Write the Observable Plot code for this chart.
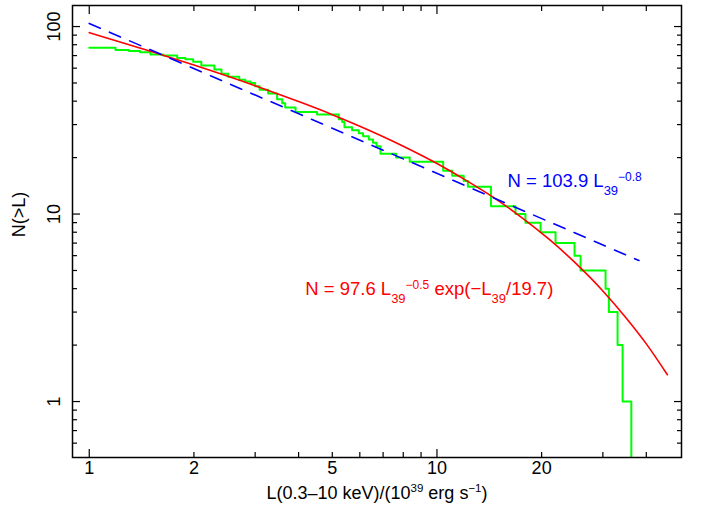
<!DOCTYPE html>
<html><head><meta charset="utf-8">
<script src="https://cdn.jsdelivr.net/npm/d3@7"></script>
<script src="https://cdn.jsdelivr.net/npm/@observablehq/plot@0.6"></script>
<style>body{margin:0;background:#fff}</style>
</head><body><div id="chart"></div>
<script>
// Cumulative luminosity function N(>L): step positions and counts
const stepL = [1.00, 1.19, 1.30, 1.40, 1.50, 1.63, 1.79, 1.89, 1.99, 2.10, 2.29, 2.40, 2.51, 2.70, 2.81, 2.91, 3.00, 3.09, 3.27, 3.47, 3.59, 3.66, 3.92, 4.52, 5.22, 5.34, 5.42, 5.70, 5.96, 6.13, 6.37, 6.55, 6.70, 6.88, 7.63, 8.35, 10.42, 11.06, 11.94, 12.27, 14.30, 16.82, 17.97, 19.86, 21.93, 24.87, 25.88, 30.54, 31.22, 33.07, 34.19, 36.22];
const stepN = [77, 75, 74, 73, 71, 70, 68, 67, 65, 62, 59, 56, 54, 52, 51, 50, 48, 46, 44, 41, 39, 37, 35, 34, 32, 31, 29, 28, 27, 26, 25, 24, 23, 21, 20, 19, 17, 16, 15, 14, 11, 10, 9, 8, 7, 6, 5, 4, 3, 2, 1, 0];
// Power-law fit (blue dashed)
const powerL = [1, 38.1];
const powerN = [103.9, 5.65];
// Cut-off power-law fit (red)
const cutoffL = [1, 1.5, 2, 3, 4, 5, 6, 8, 10, 12, 15, 18, 21, 25, 30, 35, 40, 46];
const cutoffN = [92.8, 73.9, 62.4, 48.4, 39.8, 33.9, 29.4, 23.0, 18.6, 15.3, 11.8, 9.23, 7.34, 5.49, 3.89, 2.79, 2.03, 1.39];
// Ticks
const xMajorTicks = [1, 10];
const xMinorTicks = [2, 3, 4, 5, 6, 7, 8, 9, 20, 30, 40];
const xTickLabels = [1, 2, 5, 10, 20];
const yMajorTicks = [1, 10, 100];
const yMinorTicks = [0.6, 0.7, 0.8, 0.9, 2, 3, 4, 5, 6, 7, 8, 9, 20, 30, 40, 50, 60, 70, 80, 90];
const yTickLabels = [1, 10, 100];
// Texts (plain parts and [text, baseline shift] parts)
const xTitle = ["L(0.3–10 keV)/(10", ["39", -7], " erg s", ["−1", -7], ")"];
const yTitle = "N(>L)";
const blueLabel = ["N = 103.9 L", ["39", 8], ["−0.8", -6]];
const redLabel = ["N = 97.6 L", ["39", 8], ["−0.5", -6], " exp(−L", ["39", 8], "/19.7)"];

const steps = stepL.map((L, i) => ({L, N: stepN[i]}));
const power = powerL.map((L, i) => ({L, N: powerN[i]}));
const cutoff = cutoffL.map((L, i) => ({L, N: cutoffN[i]}));

const tickOpts = {tickFormat: () => "", label: null, strokeWidth: 1.2};
const FONT = "'Liberation Sans', Arial, Helvetica, sans-serif";

const chart = Plot.plot({
  width: 701,
  height: 506,
  marginLeft: 72,
  marginRight: 20,
  marginTop: 5,
  marginBottom: 49,
  style: {fontFamily: FONT, fontSize: "18px", background: "#fff", color: "#000"},
  x: {type: "log", domain: [0.895, 50.5]},
  y: {type: "log", domain: [0.503, 129.5]},
  marks: [
    Plot.line(steps, {x: "L", y: d => d.N === 0 ? 0.3 : d.N, curve: "step-after", stroke: "#00ff00", strokeWidth: 2, clip: true}),
    Plot.line(cutoff, {x: "L", y: "N", curve: "monotone-x", stroke: "#ff0000", strokeWidth: 1.6}),
    Plot.line(power, {x: "L", y: "N", stroke: "#0000ff", strokeWidth: 1.6, strokeDasharray: "12,10"}),
    Plot.frame({strokeWidth: 1.5}),
    Plot.axisX(xMajorTicks, {anchor: "bottom", tickSize: -8, ...tickOpts}),
    Plot.axisX(xMinorTicks, {anchor: "bottom", tickSize: -5, ...tickOpts}),
    Plot.axisX(xMajorTicks, {anchor: "top", tickSize: -8, ...tickOpts}),
    Plot.axisX(xMinorTicks, {anchor: "top", tickSize: -5, ...tickOpts}),
    Plot.axisY(yMajorTicks, {anchor: "left", tickSize: -8, ...tickOpts}),
    Plot.axisY(yMinorTicks, {anchor: "left", tickSize: -5, ...tickOpts}),
    Plot.axisY(yMajorTicks, {anchor: "right", tickSize: -8, ...tickOpts}),
    Plot.axisY(yMinorTicks, {anchor: "right", tickSize: -5, ...tickOpts}),
    Plot.axisX(xTickLabels, {anchor: "bottom", tickSize: 0, tickPadding: 4, fontSize: 18, label: null}),
    Plot.axisY(yTickLabels, {anchor: "left", tickSize: 0, tickRotate: -90, tickPadding: 13, fontSize: 18, label: null}),
    Plot.text([yTitle], {frameAnchor: "left", dx: -53, dy: -17, rotate: -90, fontSize: 18, lineAnchor: "middle", textAnchor: "middle"}),
    Plot.text(["@xtitle"], {frameAnchor: "bottom", dy: 41, lineAnchor: "bottom", textAnchor: "middle", fontSize: 18}),
    Plot.text([{L: 15.95, N: 14.0}], {x: "L", y: "N", text: () => "@blue", textAnchor: "start", lineAnchor: "bottom", fill: "#0000ff", fontSize: 18.5}),
    Plot.text([{L: 4.18, N: 3.72}], {x: "L", y: "N", text: () => "@red", textAnchor: "start", lineAnchor: "bottom", fill: "#ff0000", fontSize: 18.5})
  ]
});

function setRich(svg, key, parts, subSize, supSize) {
  svg.querySelectorAll("text").forEach(t => {
    if (t.textContent !== key) return;
    t.textContent = "";
    let prev = 0;
    for (const p of parts) {
      const [s, shift] = Array.isArray(p) ? p : [p, 0];
      const ts = document.createElementNS("http://www.w3.org/2000/svg", "tspan");
      ts.textContent = s;
      if (shift) ts.setAttribute("font-size", shift > 0 ? subSize : supSize);
      const dy = shift - prev;
      if (dy) ts.setAttribute("dy", dy);
      prev = shift;
      t.appendChild(ts);
    }
  });
}
setRich(chart, "@xtitle", xTitle, 12, 11.5);
setRich(chart, "@blue", blueLabel, 13, 12);
setRich(chart, "@red", redLabel, 13, 12);

document.getElementById("chart").appendChild(chart);
</script>
</body></html>
